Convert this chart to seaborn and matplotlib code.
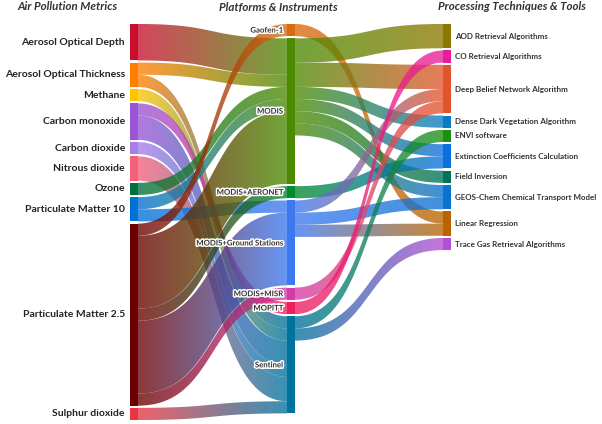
import numpy as np
import matplotlib
matplotlib.use("Agg")
import matplotlib.pyplot as plt
import seaborn as sns
from matplotlib.path import Path
from matplotlib.patches import PathPatch, Rectangle
import matplotlib.patheffects as pe

# ---------------- data ----------------
left_nodes = ["Aerosol Optical Depth", "Aerosol Optical Thickness", "Methane",
              "Carbon monoxide", "Carbon dioxide", "Nitrous dioxide", "Ozone",
              "Particulate Matter 10", "Particulate Matter 2.5", "Sulphur dioxide"]
left_colors = ["#c8102e", "#ff8000", "#ffc400", "#9a55d6", "#a77de8", "#f4607a",
               "#00703c", "#0072d6", "#6a0000", "#e8353f"]

mid_nodes = ["Gaofen-1", "MODIS", "MODIS+AERONET", "MODIS+Ground Stations",
             "MODIS+MISR", "MOPITT", "Sentinel"]
mid_colors = ["#d96a10", "#4c8a00", "#008a2e", "#3c78f0", "#d63aa8", "#ec1f5c", "#00729e"]

right_nodes = ["AOD Retrieval Algorithms", "CO Retrieval Algorithms",
               "Deep Belief Network Algorithm", "Dense Dark Vegetation Algorithm",
               "ENVI software", "Extinction Coefficients Calculation", "Field Inversion",
               "GEOS-Chem Chemical Transport Model", "Linear Regression",
               "Trace Gas Retrieval Algorithms"]
right_colors = ["#8c7800", "#e61e9c", "#e2552c", "#0a7cc4", "#1e8f12", "#0a6fe0",
                "#00735a", "#0a72d0", "#b86400", "#b34fd0"]

# metric -> platform
metric_src = ["Aerosol Optical Depth", "Aerosol Optical Thickness", "Aerosol Optical Thickness",
              "Methane", "Carbon monoxide", "Carbon monoxide", "Carbon dioxide",
              "Nitrous dioxide", "Ozone", "Particulate Matter 10", "Particulate Matter 10",
              "Particulate Matter 2.5", "Particulate Matter 2.5", "Particulate Matter 2.5",
              "Particulate Matter 2.5", "Particulate Matter 2.5", "Sulphur dioxide"]
metric_dst = ["MODIS", "MODIS", "Sentinel",
              "Sentinel", "MOPITT", "Sentinel", "Sentinel",
              "Sentinel", "MODIS", "MODIS", "MODIS+Ground Stations",
              "Gaofen-1", "MODIS", "MODIS+AERONET",
              "MODIS+Ground Stations", "MODIS+MISR", "Sentinel"]
metric_val = [3, 1, 1, 1, 1, 2, 1, 2, 1, 1, 1, 1, 6, 1, 6, 1, 1]

# platform -> technique
platform_src = ["Gaofen-1", "MODIS", "MODIS", "MODIS", "MODIS", "MODIS", "MODIS",
                "MODIS+AERONET", "MODIS+Ground Stations", "MODIS+Ground Stations",
                "MODIS+Ground Stations", "MODIS+MISR", "MOPITT", "Sentinel", "Sentinel"]
platform_dst = ["Linear Regression", "AOD Retrieval Algorithms", "Deep Belief Network Algorithm",
                "Dense Dark Vegetation Algorithm", "Extinction Coefficients Calculation",
                "Field Inversion", "GEOS-Chem Chemical Transport Model",
                "Extinction Coefficients Calculation", "Deep Belief Network Algorithm",
                "GEOS-Chem Chemical Transport Model", "Linear Regression",
                "Deep Belief Network Algorithm", "CO Retrieval Algorithms",
                "ENVI software", "Trace Gas Retrieval Algorithms"]
platform_val = [1, 2, 2, 1, 1, 1, 1, 1, 1, 1, 1, 1, 1, 1, 1]

headers = ["Air Pollution Metrics", "Platforms & Instruments", "Processing Techniques & Tools"]

# ---------------- style ----------------
sns.set_theme(style="white")
plt.rcParams["font.family"] = ["Lato", "DejaVu Sans"]

W, H = 602, 424
fig = plt.figure(figsize=(W / 100, H / 100), dpi=100)
ax = fig.add_axes([0, 0, 1, 1])
ax.set_xlim(0, W)
ax.set_ylim(H, 0)
ax.axis("off")

col_x = [130, 287, 443]
bar_w = 8
top_y = 24
bottom_y = 420
gap = 2.2

columns = [left_nodes, mid_nodes, right_nodes]
colors = {}
for names, cols in zip(columns, [left_colors, mid_colors, right_colors]):
    colors.update(dict(zip(names, cols)))

stages = [(metric_src, metric_dst, metric_val), (platform_src, platform_dst, platform_val)]

inflow = {n: 0.0 for c in columns for n in c}
outflow = {n: 0.0 for c in columns for n in c}
for s, d, v in stages:
    for a, b, val in zip(s, d, v):
        outflow[a] += val
        inflow[b] += val
size = {n: max(inflow[n], outflow[n]) for n in inflow}

total_left = sum(size[n] for n in left_nodes)
scale = (bottom_y - top_y - gap * (len(left_nodes) - 1)) / total_left

node_top = {}
node_col = {}
for ci, names in enumerate(columns):
    y = top_y
    for n in names:
        node_top[n] = y
        node_col[n] = ci
        y += size[n] * scale + gap

order = {n: i for names in columns for i, n in enumerate(names)}


def bez(x0, y0, x1, y1, n=60, c=0.55):
    t = np.linspace(0, 1, n)
    xa = x0 + c * (x1 - x0)
    xb = x1 - c * (x1 - x0)
    x = (1 - t) ** 3 * x0 + 3 * (1 - t) ** 2 * t * xa + 3 * (1 - t) * t ** 2 * xb + t ** 3 * x1
    y = (1 - t) ** 3 * y0 + 3 * (1 - t) ** 2 * t * y0 + 3 * (1 - t) * t ** 2 * y1 + t ** 3 * y1
    return x, y


z = 1
for s, d, v in stages:
    links = list(zip(s, d, v))
    src_off = {}
    cur = {}
    for a, b, val in sorted(links, key=lambda l: (order[l[0]], order[l[1]])):
        y0 = node_top[a] + cur.get(a, 0)
        cur[a] = cur.get(a, 0) + val * scale
        src_off[(a, b)] = y0
    dst_off = {}
    cur = {}
    for a, b, val in sorted(links, key=lambda l: (order[l[1]], order[l[0]])):
        y0 = node_top[b] + cur.get(b, 0)
        cur[b] = cur.get(b, 0) + val * scale
        dst_off[(a, b)] = y0
    for a, b, val in links:
        xs = col_x[node_col[a]] + bar_w
        xt = col_x[node_col[b]]
        ys0 = src_off[(a, b)]
        yt0 = dst_off[(a, b)]
        hh = val * scale
        tx, ty = bez(xs, ys0, xt, yt0)
        bx, by = bez(xs, ys0 + hh, xt, yt0 + hh)
        verts = np.concatenate([np.column_stack([tx, ty]),
                                np.column_stack([bx[::-1], by[::-1]]),
                                [[tx[0], ty[0]]]])
        codes = [Path.MOVETO] + [Path.LINETO] * (len(verts) - 2) + [Path.CLOSEPOLY]
        patch = PathPatch(Path(verts, codes), facecolor="none", edgecolor="none")
        ax.add_patch(patch)
        pal = np.array(sns.blend_palette([colors[a], colors[b]], n_colors=80))
        grad = np.ones((1, 80, 4))
        grad[0, :, :3] = pal
        grad[0, :, 3] = 0.78
        ymin = min(ty.min(), by.min()) - 1
        ymax = max(ty.max(), by.max()) + 1
        im = ax.imshow(grad, extent=(xs, xt, ymax, ymin), aspect="auto",
                       interpolation="bilinear", zorder=z)
        im.set_clip_path(patch)
        z += 1

# nodes
for ci, names in enumerate(columns):
    for n in names:
        ax.add_patch(Rectangle((col_x[ci], node_top[n]), bar_w, size[n] * scale,
                               facecolor=colors[n], edgecolor="none", zorder=200))

# labels
for n in left_nodes:
    ax.text(125, node_top[n] + size[n] * scale / 2, n, ha="right", va="center",
            fontsize=7.5, fontweight="bold", color="#222222", zorder=300)
for n in mid_nodes:
    ax.text(283, node_top[n] + size[n] * scale / 2, n, ha="right", va="center",
            fontsize=5.6, fontweight="bold", color="#333333", zorder=300,
            path_effects=[pe.withStroke(linewidth=2.2, foreground="white")])
for n in right_nodes:
    ax.text(455, node_top[n] + size[n] * scale / 2, n, ha="left", va="center",
            fontsize=5.75, fontweight="bold", color="#333333", zorder=300)

for hx, h in zip([68, 278, 512], headers):
    ax.text(hx, 7, h, ha="center", va="center", fontsize=8.3, fontweight="bold",
            fontstyle="italic", color="#333333", zorder=300)

ax.set_xlim(0, W)
ax.set_ylim(H, 0)
fig.savefig("out.png", dpi=100)
